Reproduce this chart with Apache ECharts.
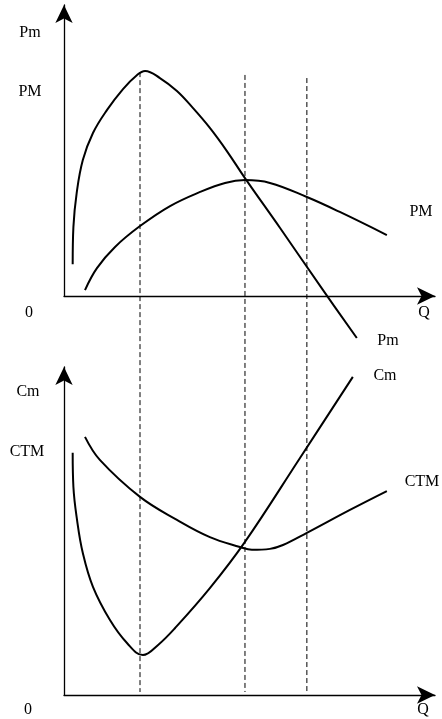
<!DOCTYPE html>
<html>
<head>
<meta charset="utf-8">
<script src="https://cdn.jsdelivr.net/npm/echarts@6/dist/echarts.min.js"></script>
<style>
html, body { margin: 0; padding: 0; background: #fff; }
#chart { width: 442px; height: 719px; }
</style>
</head>
<body>
<div id="chart"></div>
<script>
// top panel: Pm (marginal) and PM (average) product
const pmQ = [0.24, 0.26, 0.35, 0.52, 0.80, 1.19, 1.63, 2.02, 2.24, 2.65, 3.12, 3.56, 4.03, 4.50, 5.00, 5.97, 7.21, 8.09]
const pmVals = [1.13, 2.45, 3.65, 4.82, 5.78, 6.60, 7.34, 7.84, 7.98, 7.73, 7.27, 6.67, 5.96, 5.14, 4.18, 2.41, 0.11, -1.49]
const avgQ = [0.58, 0.91, 1.41, 2.10, 2.93, 3.76, 4.45, 5.00, 5.69, 6.71, 7.62, 8.92]
const avgVals = [0.21, 0.99, 1.74, 2.48, 3.19, 3.69, 4.01, 4.11, 4.01, 3.51, 2.98, 2.16]

// bottom panel: Cm (marginal) and CTM (average) cost
const cmQ = [0.24, 0.26, 0.36, 0.52, 0.80, 1.27, 1.74, 2.18, 2.60, 3.07, 4.03, 5.00, 6.52, 7.98]
const cmVals = [7.59, 6.52, 5.49, 4.45, 3.39, 2.35, 1.63, 1.25, 1.57, 2.10, 3.35, 4.80, 7.43, 9.97]
const ctmQ = [0.58, 0.99, 2.10, 3.12, 4.03, 4.86, 5.19, 5.69, 6.05, 6.71, 7.90, 8.92]
const ctmVals = [8.09, 7.37, 6.21, 5.49, 4.95, 4.64, 4.55, 4.58, 4.70, 5.08, 5.80, 6.39]

// dashed guides, measured on a scale running from the lower Q axis (-14.04) up to the top (10.32)
const guideQ = [2.10, 5.00, 6.71]
const guideTop = [7.94, 7.84, 7.73]
const guideMin = -14.04

// axis extents
const qMax = 10.25
const topMax = 10.32
const bottomMax = 10.28

// labels
const labels = [
  { text: 'Pm', x: 30, y: 33 },
  { text: 'PM', x: 30, y: 92 },
  { text: '0', x: 29, y: 313 },
  { text: 'Q', x: 424, y: 313 },
  { text: 'PM', x: 421, y: 212 },
  { text: 'Pm', x: 388, y: 341 },
  { text: 'Cm', x: 28, y: 392 },
  { text: 'CTM', x: 27, y: 452 },
  { text: 'Cm', x: 385, y: 376 },
  { text: 'CTM', x: 422, y: 482 },
  { text: '0', x: 28, y: 710 },
  { text: 'Q', x: 423, y: 710 },
]

const zip = (xs, ys) => xs.map((x, i) => [x, ys[i]])

const axisLine = {
  show: true,
  symbol: ['none', 'arrow'],
  symbolSize: [13, 18],
  lineStyle: { color: '#000', width: 1.3 },
}

function makeAxis(idx, min, max, visible) {
  return {
    type: 'value',
    gridIndex: idx,
    min: min,
    max: max,
    show: visible,
    axisLine: axisLine,
    axisTick: { show: false },
    axisLabel: { show: false },
    splitLine: { show: false },
  }
}

const curve = {
  type: 'line',
  smooth: 0.4,
  symbol: 'none',
  clip: false,
  lineStyle: { color: '#000', width: 2 },
}

const chart = echarts.init(document.getElementById('chart'), null, { renderer: 'canvas' })

chart.setOption({
  animation: false,
  backgroundColor: '#fff',
  grid: [
    { left: 64, right: 7, top: 5, bottom: 423 },
    { left: 64, right: 7, top: 367, bottom: 24 },
    { left: 64, right: 7, top: 5, bottom: 27 },
  ],
  xAxis: [makeAxis(0, 0, qMax, true), makeAxis(1, 0, qMax, true), makeAxis(2, 0, qMax, false)],
  yAxis: [makeAxis(0, 0, topMax, true), makeAxis(1, 0, bottomMax, true), makeAxis(2, guideMin, topMax, false)],
  series: [
    { ...curve, name: 'Pm', xAxisIndex: 0, yAxisIndex: 0, data: zip(pmQ, pmVals) },
    { ...curve, name: 'PM', xAxisIndex: 0, yAxisIndex: 0, data: zip(avgQ, avgVals) },
    { ...curve, name: 'Cm', xAxisIndex: 1, yAxisIndex: 1, data: zip(cmQ, cmVals) },
    { ...curve, name: 'CTM', xAxisIndex: 1, yAxisIndex: 1, data: zip(ctmQ, ctmVals) },
    ...guideQ.map((q, i) => ({
      type: 'line',
      xAxisIndex: 2,
      yAxisIndex: 2,
      symbol: 'none',
      z: 1,
      lineStyle: { color: '#000', width: 1, type: [5, 3] },
      data: [[q, guideTop[i]], [q, guideMin]],
    })),
  ],
  graphic: labels.map(l => ({
    type: 'text',
    x: l.x,
    y: l.y,
    style: {
      text: l.text,
      font: '16px "Liberation Serif"',
      fill: '#000',
      align: 'center',
      verticalAlign: 'middle',
    },
  })),
})
</script>
</body>
</html>
